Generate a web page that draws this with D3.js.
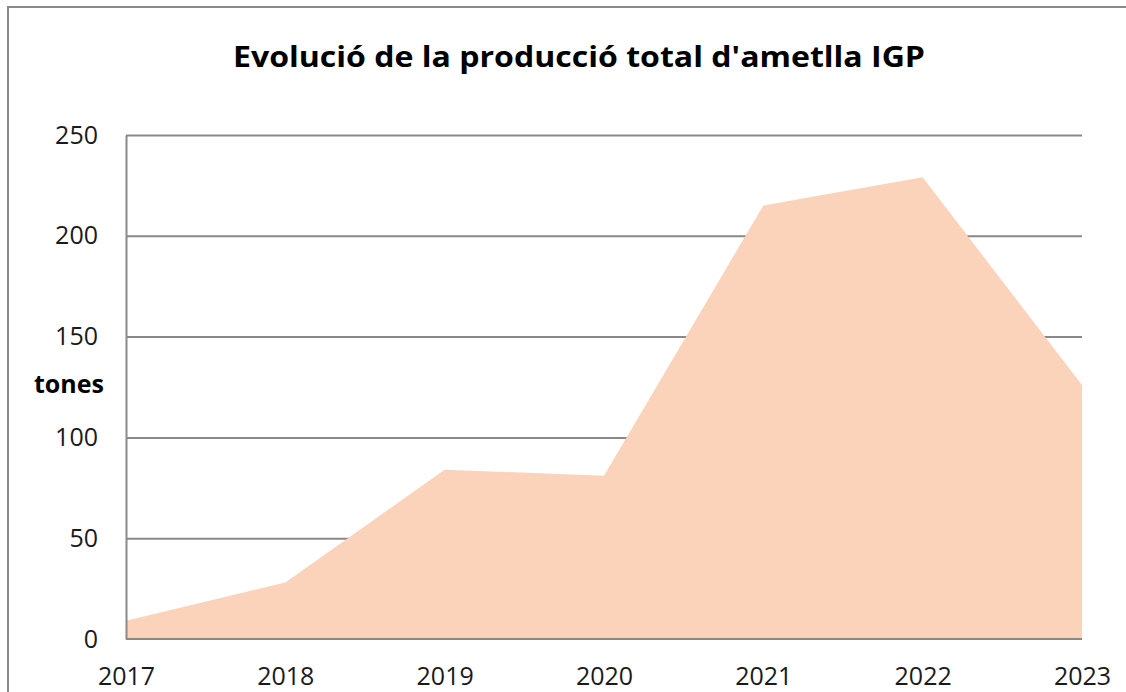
<!DOCTYPE html>
<html>
<head>
<meta charset="utf-8">
<script src="https://cdn.jsdelivr.net/npm/d3@7"></script>
<style>
  html, body { margin: 0; padding: 0; background: #fff; }
  svg { display: block; font-family: "Open Sans", "Noto Sans", sans-serif; }
</style>
</head>
<body>
<div id="chart"></div>
<script>
// Chart data
const years = ["2017", "2018", "2019", "2020", "2021", "2022", "2023"];
const tones = [9, 28, 84, 81, 215, 229, 126];
const yTicks = [0, 50, 100, 150, 200, 250];

const TITLE = "Evolució de la producció total d'ametlla IGP";
const Y_LABEL = "tones";

const WIDTH = 1126;
const HEIGHT = 692;
const PLOT = { left: 126, right: 1082, top: 135, bottom: 639 };

const COLORS = {
  area: "#fbd3ba",
  grid: "#898989",
  frame: "#8a8a8a",
  text: "#1a1a1a",
};

const svg = d3
  .select("#chart")
  .append("svg")
  .attr("width", WIDTH)
  .attr("height", HEIGHT);

// Outer frame (runs off the right and bottom of the picture)
svg
  .append("rect")
  .attr("x", 8)
  .attr("y", 7)
  .attr("width", WIDTH + 20)
  .attr("height", HEIGHT + 20)
  .attr("fill", "none")
  .attr("stroke", COLORS.frame)
  .attr("stroke-width", 2);

const xScale = d3
  .scalePoint()
  .domain(years)
  .range([PLOT.left, PLOT.right]);

const yScale = d3
  .scaleLinear()
  .domain([0, 250])
  .range([PLOT.bottom, PLOT.top]);

// Gridlines
svg
  .append("g")
  .attr("class", "grid-lines")
  .attr("transform", `translate(${PLOT.left},0)`)
  .call(
    d3
      .axisLeft(yScale)
      .tickValues(yTicks.filter((t) => t > 0))
      .tickSize(-(PLOT.right - PLOT.left))
      .tickFormat("")
  )
  .call((g) => g.select(".domain").remove())
  .call((g) =>
    g.selectAll("line").attr("stroke", COLORS.grid).attr("stroke-width", 2)
  );

// Area
const area = d3
  .area()
  .x((d, i) => xScale(years[i]))
  .y0(yScale(0))
  .y1((d) => yScale(d));

svg
  .append("path")
  .datum(tones)
  .attr("d", area)
  .attr("fill", COLORS.area);

// Y axis line + labels
svg
  .append("g")
  .attr("class", "y-axis")
  .attr("transform", `translate(${PLOT.left},0)`)
  .call(d3.axisLeft(yScale).tickValues(yTicks).tickSize(0).tickPadding(28))
  .call((g) =>
    g.select(".domain").attr("stroke", COLORS.frame).attr("stroke-width", 2)
  )
  .call((g) =>
    g
      .selectAll("text")
      .attr("fill", COLORS.text)
      .style("font-size", "25px")
      .style("font-family", "'Open Sans', sans-serif")
  );

// X axis
svg
  .append("g")
  .attr("class", "x-axis")
  .attr("transform", `translate(0,${PLOT.bottom})`)
  .call(d3.axisBottom(xScale).tickSize(0).tickPadding(28))
  .call((g) =>
    g
      .select(".domain")
      .attr("d", `M${PLOT.left},0H${PLOT.right}`)
      .attr("stroke", COLORS.frame)
      .attr("stroke-width", 2)
  )
  .call((g) =>
    g
      .selectAll("text")
      .attr("fill", COLORS.text)
      .style("font-size", "25px")
      .style("font-family", "'Open Sans', sans-serif")
  );

// Y label
svg
  .append("text")
  .attr("x", 69)
  .attr("y", 393)
  .attr("text-anchor", "middle")
  .attr("fill", "#000")
  .style("font-size", "25px")
  .style("font-weight", 700)
  .text(Y_LABEL);

// Title
svg
  .append("text")
  .attr("x", 579)
  .attr("y", 67)
  .attr("text-anchor", "middle")
  .attr("fill", "#000")
  .attr("textLength", 692)
  .attr("lengthAdjust", "spacingAndGlyphs")
  .style("font-size", "29px")
  .style("font-weight", 700)
  .text(TITLE);
</script>
</body>
</html>
